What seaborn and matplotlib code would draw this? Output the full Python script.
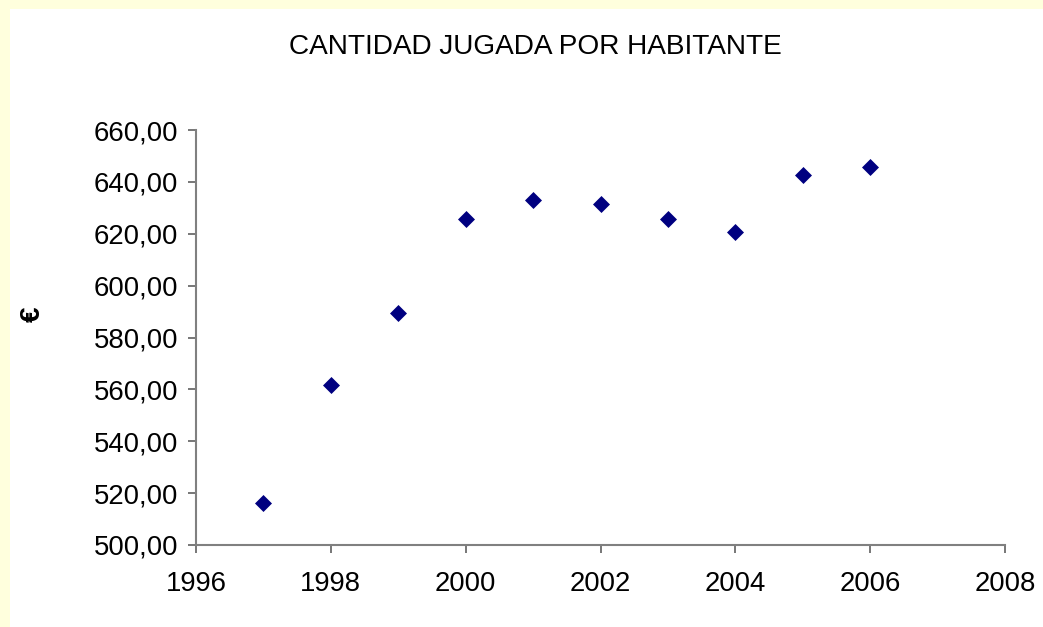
import matplotlib
matplotlib.use("Agg")
import matplotlib.pyplot as plt
import matplotlib.ticker as mticker
from matplotlib.patches import Rectangle
import pandas as pd
import seaborn as sns

# Data
years = [1997, 1998, 1999, 2000, 2001, 2002, 2003, 2004, 2005, 2006]
amount_per_person = [516.1, 561.6, 589.4, 625.7, 633.1, 631.6, 625.7, 620.5, 642.6, 645.8]
x_ticks = [1996, 1998, 2000, 2002, 2004, 2006, 2008]
y_ticks = [500, 520, 540, 560, 580, 600, 620, 640, 660]

df = pd.DataFrame({"year": years, "amount": amount_per_person})

sns.set_style("white")
plt.rcParams["font.family"] = ["Liberation Sans", "DejaVu Sans"]
plt.rcParams["text.color"] = "black"

fig = plt.figure(figsize=(10.43, 6.27), dpi=100, facecolor="#FFFFDD")
# white panel, leaving the pale yellow strip on top and left
fig.patches.append(Rectangle((10 / 1043, 0), 1, 1 - 9 / 627, transform=fig.transFigure,
                             facecolor="white", edgecolor="none", zorder=-1))
ax = fig.add_axes([196 / 1043, 82 / 627, 809 / 1043, 415 / 627])
ax.set_zorder(2)
ax.set_facecolor("none")

sns.scatterplot(data=df, x="year", y="amount", marker="D", s=75, color="#000080",
                edgecolor="#000080", linewidth=0, ax=ax, zorder=3)

ax.set_xlim(1996, 2008)
ax.set_ylim(500, 660)
ax.set_xticks(x_ticks)
ax.set_yticks(y_ticks)
ax.yaxis.set_major_formatter(mticker.FuncFormatter(lambda v, p: f"{v:.2f}".replace(".", ",")))

for side in ["top", "right"]:
    ax.spines[side].set_visible(False)
for side in ["left", "bottom"]:
    ax.spines[side].set_color("#808080")
    ax.spines[side].set_linewidth(1.5)

ax.tick_params(axis="both", direction="out", length=6, width=1.2, color="#606060",
               labelsize=19.8, labelcolor="black", bottom=True, left=True)
ax.tick_params(axis="y", pad=7)
ax.tick_params(axis="x", pad=13)
ax.set_xlabel("")
ax.set_ylabel("")

fig.text(535 / 1043, 1 - 47 / 627, "CANTIDAD JUGADA POR HABITANTE", ha="center", va="center",
         fontsize=20.2, color="black", zorder=3)
fig.text(33 / 1043, 1 - 314 / 627, "€", ha="center", va="center", rotation=90,
         fontsize=20, fontweight="bold", color="black", zorder=3)

fig.savefig("out.png", dpi=100, facecolor=fig.get_facecolor())
